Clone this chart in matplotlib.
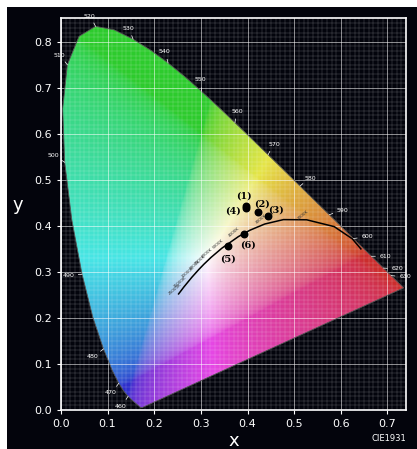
import numpy as np
import matplotlib
matplotlib.use("Agg")
from matplotlib import pyplot as plt
from matplotlib.path import Path
from matplotlib.patches import PathPatch, Rectangle

# spectral locus (CIE 1931 2 deg), wavelength -> x, y
wl = [380, 420, 430, 440, 450, 455, 460, 465, 470, 475, 480, 485, 490, 495, 500,
      505, 510, 515, 520, 525, 530, 535, 540, 545, 550, 555, 560, 565, 570, 575,
      580, 585, 590, 595, 600, 605, 610, 620, 630, 640, 660, 700]
lx = [0.1741, 0.1714, 0.1689, 0.1644, 0.1566, 0.1510, 0.1440, 0.1355, 0.1241, 0.1096,
      0.0913, 0.0687, 0.0454, 0.0235, 0.0082, 0.0039, 0.0139, 0.0389, 0.0743, 0.1142,
      0.1547, 0.1929, 0.2296, 0.2658, 0.3016, 0.3373, 0.3731, 0.4087, 0.4441, 0.4788,
      0.5125, 0.5448, 0.5752, 0.6029, 0.6270, 0.6482, 0.6658, 0.6915, 0.7079, 0.7190,
      0.7300, 0.7347]
ly = [0.0050, 0.0051, 0.0069, 0.0109, 0.0177, 0.0227, 0.0297, 0.0399, 0.0578, 0.0868,
      0.1327, 0.2007, 0.2950, 0.4127, 0.5384, 0.6548, 0.7502, 0.8120, 0.8338, 0.8262,
      0.8059, 0.7816, 0.7543, 0.7243, 0.6923, 0.6589, 0.6245, 0.5896, 0.5547, 0.5202,
      0.4866, 0.4544, 0.4242, 0.3965, 0.3725, 0.3514, 0.3340, 0.3083, 0.2920, 0.2809,
      0.2700, 0.2653]
wl_labels = [460, 470, 480, 490, 500, 510, 520, 530, 540, 550, 560, 570, 580, 590,
             600, 610, 620, 630]

# Planckian locus
cct = [25000, 15000, 10000, 8000, 7000, 6000, 5000, 4000, 3500, 3000, 2500, 2000, 1500, 1200, 1000]
px = [0.2523, 0.2637, 0.2807, 0.2952, 0.3064, 0.3221, 0.3451, 0.3805, 0.4053, 0.4369,
      0.4770, 0.5267, 0.5857, 0.6245, 0.6430]
py = [0.2522, 0.2674, 0.2884, 0.3048, 0.3166, 0.3318, 0.3516, 0.3768, 0.3907, 0.4041,
      0.4137, 0.4133, 0.3985, 0.3720, 0.3500]

# measured samples
sx = [0.397, 0.423, 0.444, 0.396, 0.358, 0.393]
sy = [0.443, 0.430, 0.422, 0.439, 0.357, 0.383]
slabels = ['(1)', '(2)', '(3)', '(4)', '(5)', '(6)']
soffs = [(-0.005, 0.022), (0.007, 0.018), (0.018, 0.012), (-0.028, -0.006),
         (0.000, -0.028), (0.007, -0.025)]

fig = plt.figure(figsize=(4.17, 4.49), dpi=100, facecolor='white')
fig.patches.append(Rectangle((7 / 417, 0), 1, 1 - 7 / 449, transform=fig.transFigure,
                             facecolor='#03040c', edgecolor='none', zorder=-10))
ax = fig.add_axes([0.146, 0.087, 0.828, 0.873])
ax.set_facecolor('#03040c')
xmax, ymax = 0.740, 0.852

# colour fill
gx, gy = np.meshgrid(np.linspace(0, xmax, 400), np.linspace(0.001, ymax, 400))
X = gx / gy
Y = np.ones_like(gx)
Z = (1 - gx - gy) / gy
M = np.array([[3.2406, -1.5372, -0.4986], [-0.9689, 1.8758, 0.0415], [0.0557, -0.2040, 1.0570]])
rgb = np.einsum('ij,jkl->kli', M, np.array([X, Y, Z]))
rgb = np.clip(rgb, 0, None)
rgb /= rgb.max(axis=2, keepdims=True) + 1e-9
rgb = np.where(rgb <= 0.0031308, 12.92 * rgb, 1.055 * rgb ** (1 / 2.4) - 0.055)
# soften towards the printed look
rgb = 0.62 * rgb + 0.30 * rgb.mean(axis=2, keepdims=True) + 0.08
rgb = np.clip(rgb, 0, 1)
im = ax.imshow(rgb, origin='lower', extent=[0, xmax, 0.001, ymax], aspect='auto', zorder=0)
verts = list(zip(lx, ly)) + [(lx[0], ly[0])]
patch = PathPatch(Path(verts), facecolor='none', edgecolor='none')
ax.add_patch(patch)
im.set_clip_path(patch)
ax.plot(lx + [lx[0]], ly + [ly[0]], color='#555555', lw=0.6, zorder=3)

# wavelength labels
cx, cy = 0.33, 0.33
for w, x, y in zip(wl, lx, ly):
    if w in wl_labels:
        d = np.array([x - cx, y - cy]); d /= np.hypot(*d)
        ax.plot([x, x + 0.008 * d[0]], [y, y + 0.008 * d[1]], color='white', lw=0.5, zorder=4)
        ax.text(x + 0.03 * d[0], y + 0.025 * d[1], str(w), color='white', fontsize=4.5,
                ha='center', va='center', zorder=4)

# grid
ax.set_xticks(np.arange(0, 0.75, 0.1))
ax.set_yticks(np.arange(0, 0.85, 0.1))
ax.set_xticks(np.arange(0, 0.74, 0.01), minor=True)
ax.set_yticks(np.arange(0, 0.85, 0.01), minor=True)
ax.set_axisbelow(False)
ax.grid(which='major', color='white', lw=0.7, alpha=0.55)
ax.grid(which='minor', color='white', lw=0.35, alpha=0.3)
ax.tick_params(which='minor', length=0)
ax.tick_params(which='major', colors='white', labelsize=8, length=3)
for s in ax.spines.values():
    s.set_color('white')
    s.set_linewidth(1.2)
ax.set_xlim(0, xmax)
ax.set_ylim(0, ymax)

# Planckian locus
ax.plot(px, py, color='black', lw=1.1, zorder=5)
for t, x, y in zip(cct, px, py):
    if t in (25000, 15000, 10000, 8000, 7000, 6000, 5000, 4000, 3000, 2000):
        ax.text(x - 0.008, y + 0.01, '%dK' % t, fontsize=3, rotation=40, color='#333333',
                ha='center', va='center', zorder=5)

ax.scatter(sx, sy, s=22, color='black', zorder=6)
for lab, x, y, (dx, dy) in zip(slabels, sx, sy, soffs):
    ax.text(x + dx, y + dy, lab, fontsize=7, fontweight='bold', family='DejaVu Serif',
            ha='center', va='center', zorder=6)

ax.set_xlabel('x', color='white', fontsize=13, labelpad=2)
ax.set_ylabel('y', color='white', fontsize=13, rotation=0, labelpad=12)
fig.text(0.975, 0.018, 'CIE1931', color='white', fontsize=6, ha='right')

fig.savefig('out.png', dpi=100, facecolor=fig.get_facecolor())
